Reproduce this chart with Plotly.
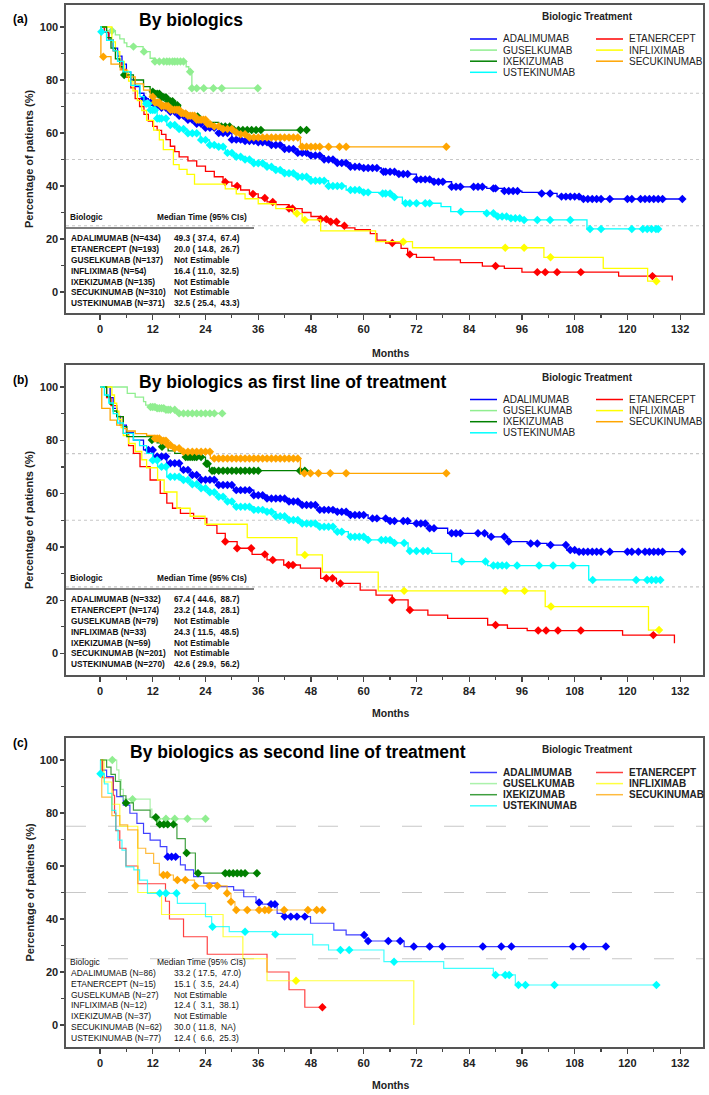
import numpy as np
import plotly.graph_objects as go

W, H = 709, 1095
FONT = "Arial, Liberation Sans, sans-serif"

DRUGS = ["ADALIMUMAB", "ETANERCEPT", "GUSELKUMAB", "INFLIXIMAB",
         "IXEKIZUMAB", "SECUKINUMAB", "USTEKINUMAB"]
COLORS = ["#0000ff", "#ff0000", "#90ee90", "#ffff00", "#008000", "#ffa500", "#00ffff"]

TICKS_X = list(range(0, 133, 12))
TICKS_Y = [0, 20, 40, 60, 80, 100]

# ---------------- Panel (a): by biologics ----------------
a_ada_t = [0, 1, 2, 3, 4, 5, 6, 7, 8, 9, 10, 11, 12, 14, 16, 18, 20, 22, 24, 27, 30, 33, 36, 39, 42, 45, 48,
           51, 54, 57, 60, 64, 68, 72, 76, 80, 88, 92, 96, 100, 104, 110, 132.5]
a_ada_s = [100, 98, 95, 92, 89, 86, 83, 80, 77.5, 75, 73, 71.5, 70.6, 69.5, 68, 66.5, 65, 63.5, 62, 60, 57.5, 57,
           56.5, 55.5, 54, 52.5, 51.5, 50, 48.7, 47.3, 46.8, 45.4, 44.5, 42.5, 41.6, 39.7, 39.1, 38.1, 37.6, 37.2,
           36, 35.1, 35.1]
a_ada_c = [10, 11.5, 12.5, 13, 14, 15, 16, 17, 18, 19, 20, 21, 22, 23, 24, 25, 26, 27, 28, 29, 30, 31, 32, 33, 34,
           35, 36, 37, 38, 39, 40, 41, 42, 43, 44, 45, 46, 47, 48, 49, 50, 51, 52, 53, 54, 55, 56, 57, 58, 59, 60,
           61, 62, 63, 64.5, 65, 66, 67, 68, 69, 70, 72, 73, 74, 75, 76, 77, 78, 80, 81, 82, 85, 86, 87, 89.5, 90,
           92, 93, 94, 95, 100.5, 102.4, 105, 106, 107, 108, 109, 110, 111, 112, 113, 114, 116, 120, 121, 123,
           124, 125, 126, 127, 128, 132.5]

a_eta_t = [0, 1, 2, 3, 4, 5, 6, 7, 8, 9, 10, 11, 12, 13, 14, 15, 16, 17, 18, 20, 22, 24, 26, 28, 30, 32, 34, 36,
           38, 40, 43, 46, 48, 50, 52, 54, 56, 58, 61.5, 63, 65, 68.5, 70, 72, 76, 82, 87, 92, 96, 118, 130.2]
a_eta_s = [100, 98, 95, 91, 87, 84, 81, 77, 73, 70, 67, 64.5, 62.5, 61, 59.5, 57.5, 55, 53, 51, 49.5, 47.5, 45.5,
           43.5, 41.5, 40, 38.5, 37, 35.5, 34, 33, 31.5, 30, 28.5, 27.5, 26.5, 25, 24.2, 23.5, 22, 19.6, 18.5,
           16.5, 14.2, 13.1, 12.1, 11.1, 9.8, 8.9, 7.5, 6.0, 4.3]
a_eta_c = [28.5, 31.2, 34.8, 37.5, 39.3, 43, 43.8, 50.2, 51.5, 52.5, 53.8, 55.6, 66.5, 70.5, 90, 99.5, 101.3,
           104, 109.4, 125.7]

a_gus_t = [0, 1.5, 3.5, 4.5, 5.5, 6.1, 9.8, 11.4, 12.5, 19.6, 20.2, 20.9, 36]
a_gus_s = [100, 98.6, 97, 95.5, 94, 92.6, 90.7, 88.2, 87, 85, 83.1, 76.9, 76.9]
a_gus_c = [2.7, 7.6, 10, 12.5, 13.5, 14.5, 15.2, 15.8, 16.5, 17, 17.6, 18.3, 19, 20.5, 20.9, 22, 23.6, 25.8,
           27.7, 35.9]

a_inf_t = [0, 2.7, 3.5, 4.5, 5.5, 6.5, 7.5, 8.5, 9.5, 10.6, 12.2, 13.5, 14.4, 16.7, 18, 19.8, 21.5, 28.5, 31,
           33, 36, 40, 44, 46, 50.2, 62.7, 71.1, 101, 114.5, 124.6, 126.6]
a_inf_s = [100, 94.4, 90.7, 87, 83.3, 79.6, 75.9, 72.2, 68.5, 64.8, 61.1, 57.4, 53.7, 48.1, 46.3, 44.4, 40.7,
           38.9, 37, 35.2, 33.3, 31.5, 29.6, 27.2, 23.1, 19, 16.7, 13.1, 8.9, 4.1, 4.1]
a_inf_c = [44.8, 46.6, 69, 92.2, 96.5, 102.5, 126.6]

a_ixe_t = [0, 1.5, 2.5, 3.5, 4.5, 5.3, 7.6, 9.9, 11.4, 12.5, 14, 15.5, 17, 18.3, 19.8, 22.8, 24.3, 27, 30.4, 47]
a_ixe_s = [100, 96, 92, 88, 85, 81.9, 80, 77.5, 75.6, 74.8, 73.5, 72, 70.5, 68, 66.2, 65, 64, 62.5, 61.1, 61.1]
a_ixe_c = [5.5, 12, 12.5, 13, 13.5, 14, 14.5, 15, 15.5, 16, 16.5, 17, 17.6, 22.2, 27.6, 28.5, 29.5, 30.5, 31.5,
           32.5, 33.5, 34.5, 35.5, 36.6, 45.6, 47]

a_sec_t = [0, 0.2, 2.5, 4.6, 6.1, 8, 9.9, 11.4, 12.5, 14, 16, 18.3, 20, 22, 24.3, 26, 28, 30.4, 32, 34, 45.6, 78.8]
a_sec_s = [100, 88.8, 86, 83.8, 81.2, 78.5, 76.2, 73.7, 71.5, 70.2, 68.8, 67.4, 66.5, 65, 63.4, 62.5, 61.5, 60.2,
           59.5, 58.3, 54.8, 54.8]
a_sec_c = [0.75, 12, 12.5, 13, 13.5, 14, 14.5, 15, 15.5, 16, 16.5, 17, 17.5, 18, 18.5, 19, 19.5, 20, 20.5, 21,
           21.5, 22, 22.5, 23, 23.5, 24, 24.5, 25, 26, 27, 28, 29, 30, 31, 32, 33, 34, 35, 36, 37, 38, 39, 40, 41,
           42, 43, 44, 45, 46, 47, 48, 49, 50, 52, 54.5, 56, 78.8]

a_ust_t = [0, 0.3, 1.5, 3, 4, 5.3, 7, 9.1, 10, 11.4, 13, 15.2, 17.5, 19.8, 22.8, 24.9, 26.6, 28.5, 30.4, 33, 35,
           38, 40, 42, 45, 48, 52, 56, 60, 63.5, 66.5, 68.8, 77.6, 79.8, 87.4, 89.6, 93, 96.5, 110.8, 127]
a_ust_s = [100, 98.2, 95, 91, 87, 83.1, 78, 73.7, 71, 68.7, 65.5, 63, 61.5, 59.9, 57.4, 55.5, 54.8, 52.5, 51,
           50, 48.6, 47.3, 46, 44.8, 43.5, 42, 40, 38.5, 37.6, 37.2, 35.8, 33.5, 32.2, 30.3, 29.7, 28.5, 27.8,
           27.2, 23.8, 23.8]
a_ust_c = [0.3, 10.5, 11, 11.5, 12, 12.5, 13, 13.5, 14, 15, 16, 17, 18, 19, 20, 21, 22, 23, 24, 25, 26, 27, 28,
           29, 30, 31, 32, 33, 34, 35, 36, 37, 38, 39, 40, 41, 42, 43, 44, 45, 46, 47, 48, 49, 50, 51, 52, 53, 54,
           55, 57, 58, 59, 60, 61, 64.3, 65, 66, 67, 69.5, 70.5, 72, 74, 75, 82.1, 88, 89.5, 90.5, 91.5, 92.5,
           93.5, 94.5, 95.5, 96.5, 99.5, 102.4, 107, 111.5, 114, 121, 123.5, 124.5, 125.5, 126.5, 127]

# ---------------- Panel (b): first line ----------------
b_ada_t = [0, 2.3, 3, 3.8, 4.6, 6, 7.6, 9.9, 12.2, 15.2, 18.3, 20.5, 22.8, 26.6, 30.4, 35, 38, 42.6, 45.6, 49.4,
           53.2, 57, 61, 66, 70.1, 74.6, 79.1, 88.2, 92.7, 97.2, 101.7, 106.2, 108.5, 132.5]
b_ada_s = [100, 96, 92, 89, 85.7, 83, 80.1, 76.4, 73.9, 71.4, 68.9, 67, 65.2, 63.2, 61.3, 59.4, 58.2, 57, 55.7,
           53.9, 53.2, 52, 50.7, 49.7, 48.8, 47, 45.1, 43.8, 42, 41.3, 40.7, 38.8, 38.2, 38.2]
b_ada_c = [11, 12, 13, 14, 15, 16, 17, 18, 19, 20, 21, 22, 23, 24, 25, 26, 27, 28, 29, 30, 31, 32, 33, 34, 35,
           36, 37, 38, 39, 40, 41, 42, 43, 44, 45, 46, 47, 48, 49, 50, 51, 52, 53, 54, 55, 56, 57, 58, 59, 60,
           62, 63, 65, 66, 67, 69, 70, 72, 73, 74, 75, 76, 80, 81, 82, 86, 87.5, 89, 92, 93, 98, 99.5, 102.5,
           106, 107, 108, 109, 110, 111, 112, 113, 114, 116, 120, 121, 122.5, 124, 125, 126, 127, 128, 132.5]

b_eta_t = [0, 1.5, 2.5, 3.8, 5.3, 6.5, 7.6, 9.1, 11.4, 13.7, 15.2, 16.5, 18.3, 21.3, 24.3, 26.6, 28.5, 31.2,
           34.6, 38, 41.8, 45.6, 50.2, 53.8, 59.2, 62.8, 66.5, 70.1, 74.6, 79.1, 88.2, 92.7, 97.2, 118.9, 130.7]
b_eta_s = [100, 96, 93, 88.9, 82.6, 78, 75.1, 70.1, 65.1, 60.1, 56.4, 54.5, 52.6, 50.7, 48.2, 45.1, 42, 39.5,
           37.2, 35.1, 33.2, 32, 28.2, 26.3, 23.8, 21.9, 20.1, 16.3, 14.4, 13.2, 10.7, 9.4, 8.6, 6.9, 3.8]
b_eta_c = [28.5, 31.2, 34.4, 37.5, 39.3, 42.9, 43.9, 51.5, 52.9, 54.7, 66.5, 70.5, 90, 99.7, 101.5, 104.2,
           109.4, 125.9]

b_gus_t = [0, 6.2, 8, 9.9, 10.4, 11.2, 13, 15, 17.5, 28]
b_gus_s = [100, 97.6, 96.2, 94.5, 93.2, 92.5, 92, 91.5, 90.1, 90.1]
b_gus_c = [11.5, 12, 12.5, 13, 13.5, 14, 14.5, 15, 15.5, 16, 17, 18, 19, 20, 21, 22, 23, 24, 25, 26, 27.8]

b_inf_t = [0, 2.7, 3.3, 3.8, 4.3, 4.8, 5.3, 6.5, 8, 9.5, 10.6, 13.1, 14.6, 17.5, 20.5, 23.9, 33.5, 44.8, 50.6,
           63.3, 101.3, 124.8, 127.2]
b_inf_s = [100, 97, 93.9, 90.9, 87.9, 84.8, 81.8, 78.8, 75.8, 72.7, 69.7, 65.1, 60.6, 54.5, 51.5, 48.5, 43.5,
           37, 30.5, 23.5, 17.6, 8.8, 8.8]
b_inf_c = [46.6, 69.2, 92.2, 96.6, 102.6, 127.2]

b_ixe_t = [0, 1.5, 2.3, 3, 3.8, 5.3, 6.1, 11.8, 13, 14.1, 15.5, 17, 19.4, 24, 24.9, 46.6]
b_ixe_s = [100, 96.5, 93.5, 91, 88.9, 85.1, 81.4, 80.1, 79, 77.6, 76, 75.1, 73.7, 71.2, 68.6, 68.6]
b_ixe_c = [11.8, 14.1, 19.5, 20, 20.5, 21, 21.5, 22, 23, 24.2, 24.5, 25.5, 26, 27, 28, 29, 30, 31, 32, 33, 34,
           35, 36, 45.5, 46.6]

b_sec_t = [0, 0.4, 2.3, 3.8, 5.3, 6.1, 8, 10.6, 12.2, 14, 15.2, 16.5, 18.3, 25.1, 45.6, 78.8]
b_sec_s = [100, 92, 87.6, 85.7, 84.4, 83.5, 82.5, 81.8, 80.7, 79.8, 78.2, 77, 75.7, 73.2, 67.6, 67.6]
b_sec_c = [12.5, 13, 13.5, 14, 14.5, 15, 15.5, 16, 17, 18, 19, 20, 21, 22, 23, 24, 25, 26, 27, 28, 29, 30, 31,
           32, 33, 34, 35, 36, 37, 38, 39, 40, 41, 42, 43, 44, 45, 46.5, 47.9, 49.7, 52.4, 56, 78.8]

b_ust_t = [0, 1, 2, 3, 4, 5.3, 7.6, 9, 10.6, 12, 13.1, 15.2, 18.3, 20.5, 22.8, 24.5, 26.6, 28.5, 30.4, 35, 38,
           40, 42.6, 45.6, 49.4, 53.2, 56.5, 61, 66.5, 70.1, 75.5, 80, 88.2, 111.2, 127.9]
b_ust_s = [100, 97, 94, 90, 86.5, 82.6, 80.1, 78, 75.1, 72.5, 70.1, 66.3, 65.1, 63.5, 62, 60.5, 58.8, 57, 55.1,
           53.9, 53.2, 51.5, 50.1, 48.8, 47.6, 45.7, 43.8, 42.6, 41.5, 38.5, 37.6, 34.5, 33, 27.6, 27.6]
b_ust_c = [12, 13, 14, 15, 16, 17, 18, 19, 20, 21, 22, 23, 24, 25, 26, 27, 28, 29, 30, 31, 32, 33, 34, 35, 36,
           37, 38, 39, 40, 41, 42, 43, 44, 45, 46, 47, 48, 49, 50, 51, 52, 53, 54, 55, 57, 58, 59, 60, 61, 64,
           65, 66, 67, 69.2, 70.5, 72, 73.5, 74.6, 82.3, 87.7, 89.5, 90.5, 91.5, 92.5, 94.9, 99.9, 103.1, 107.6,
           112.1, 122, 124.5, 125.5, 126.5, 127.5]

# ---------------- Panel (c): second line ----------------
c_ada_t = [0, 0.5, 1.5, 3, 3.8, 5.3, 6.8, 8.4, 9.9, 11.4, 13.7, 15.2, 18.3, 19.4, 21.3, 23.6, 26.6, 30.4, 32.7,
           35.5, 36.9, 40.3, 41.5, 47.9, 53.2, 56, 60.5, 69.2, 115.1]
c_ada_s = [100, 96.2, 93.7, 88.7, 86.2, 83, 79.9, 76.1, 72.3, 69.8, 67.3, 63.5, 60.4, 58.5, 56, 53.5, 52.2,
           50.9, 48.4, 46.2, 45.6, 42.1, 40.9, 38.4, 35.8, 34, 31.7, 29.6, 29.6]
c_ada_c = [15.4, 16.3, 17.2, 36.2, 38.9, 39.8, 42, 43.4, 44.8, 46.6, 60.1, 61, 65.6, 68.3, 71.4, 75, 77.9, 87.1,
           91.3, 93.6, 107.6, 110, 115.1]

c_eta_t = [0, 0.6, 3.0, 3.3, 3.6, 4.5, 5.9, 8.6, 14.9, 15.8, 19, 24.4, 38, 43, 46.6, 50.6]
c_eta_s = [100, 93.3, 86.7, 80, 73.3, 66.7, 60, 53.3, 46.7, 40, 33.3, 26.7, 20, 13.3, 6.7, 6.7]
c_eta_c = [50.6]

c_gus_t = [0, 3.8, 4.3, 4.8, 5.3, 11.4, 11.8, 24]
c_gus_s = [100, 96.3, 92.6, 88.9, 85.2, 81.5, 77.8, 77.8]
c_gus_c = [2.8, 7.4, 13, 15, 17, 19.9, 24]

c_inf_t = [0, 0.9, 2.7, 4.5, 8.6, 14, 28, 32.5, 38, 71.4]
c_inf_s = [100, 91.7, 83.3, 75, 50, 41.7, 33.3, 25, 16.7, 0]
c_inf_c = [44.6]

c_ixe_t = [0, 1.5, 2.5, 3.5, 4.6, 5.9, 7.6, 11.4, 12.9, 17.5, 19.4, 21.7, 35.7]
c_ixe_s = [100, 97.3, 94.6, 91.9, 86.5, 83.8, 81.1, 78.4, 75.7, 70.3, 64.9, 57.3, 57.3]
c_ixe_c = [5.9, 12.7, 13.6, 14.5, 15.4, 16.7, 19.7, 22.3, 28.5, 29.4, 30.3, 31.2, 32.1, 33, 35.7]

c_sec_t = [0, 0.4, 2.7, 4.5, 6.3, 8.6, 10.4, 12.2, 13.5, 16.7, 21.5, 28.9, 29.8, 30.7, 50.6]
c_sec_s = [100, 86, 79, 75.5, 73.6, 66.7, 64.8, 61, 56.6, 54.7, 52.5, 49.7, 46.5, 43.4, 43.4]
c_sec_c = [14.4, 15.3, 17.6, 19.4, 21.7, 24.9, 26.7, 28.9, 29.8, 31, 33.5, 36.2, 37.5, 38.4, 41.9, 47.3, 49.3,
           50.6]

c_ust_t = [0, 0.1, 1, 1.8, 2.7, 3.6, 4.1, 5, 5.9, 7.7, 9, 10.8, 17.6, 24, 25.4, 29.4, 39.3, 48.4, 52, 64.6,
           78.2, 89.5, 94.5, 126.6]
c_ust_s = [100, 94.8, 91, 87.4, 81, 73.6, 69.8, 66, 59.7, 58.5, 54.7, 49.7, 45.9, 40.9, 37.1, 35.2, 34.2, 30.2,
           28.3, 23.9, 21.4, 18.9, 15.1, 15.1]
c_ust_c = [0.1, 13.6, 15, 17.4, 25.6, 33, 39.9, 54.7, 56.7, 66.9, 90, 92.2, 93.1, 95.2, 96.8, 103.4, 126.6]

# ---------------- Tables ----------------
table_a_names = ["ADALIMUMAB (N=434)", "ETANERCEPT (N=193)", "GUSELKUMAB (N=137)", "INFLIXIMAB (N=54)",
                 "IXEKIZUMAB (N=135)", "SECUKINUMAB (N=310)", "USTEKINUMAB (N=371)"]
table_a_median = ["49.3 ( 37.4,  67.4)", "20.0 ( 14.8,  26.7)", "Not Estimable", "16.4 ( 11.0,  32.5)",
                  "Not Estimable", "Not Estimable", "32.5 ( 25.4,  43.3)"]
table_b_names = ["ADALIMUMAB (N=332)", "ETANERCEPT (N=174)", "GUSELKUMAB (N=79)", "INFLIXIMAB (N=33)",
                 "IXEKIZUMAB (N=59)", "SECUKINUMAB (N=201)", "USTEKINUMAB (N=270)"]
table_b_median = ["67.4 ( 44.6,  88.7)", "23.2 ( 14.8,  28.1)", "Not Estimable", "24.3 ( 11.5,  48.5)",
                  "Not Estimable", "Not Estimable", "42.6 ( 29.9,  56.2)"]
table_c_names = ["ADALIMUMAB (N=86)", "ETANERCEPT (N=15)", "GUSELKUMAB (N=27)", "INFLIXIMAB (N=12)",
                 "IXEKIZUMAB (N=37)", "SECUKINUMAB (N=62)", "USTEKINUMAB (N=77)"]
table_c_median = ["33.2 ( 17.5,  47.0)", "15.1 (  3.5,  24.4)", "Not Estimable", "12.4 (  3.1,  38.1)",
                  "Not Estimable", "30.0 ( 11.8,  NA)", "12.4 (  6.6,  25.3)"]

panel_titles = ["By biologics", "By biologics as first line of treatment",
                "By biologics as second line of treatment"]
panel_labels = ["(a)", "(b)", "(c)"]

series = [
    [(a_ada_t, a_ada_s, a_ada_c), (a_eta_t, a_eta_s, a_eta_c), (a_gus_t, a_gus_s, a_gus_c),
     (a_inf_t, a_inf_s, a_inf_c), (a_ixe_t, a_ixe_s, a_ixe_c), (a_sec_t, a_sec_s, a_sec_c),
     (a_ust_t, a_ust_s, a_ust_c)],
    [(b_ada_t, b_ada_s, b_ada_c), (b_eta_t, b_eta_s, b_eta_c), (b_gus_t, b_gus_s, b_gus_c),
     (b_inf_t, b_inf_s, b_inf_c), (b_ixe_t, b_ixe_s, b_ixe_c), (b_sec_t, b_sec_s, b_sec_c),
     (b_ust_t, b_ust_s, b_ust_c)],
    [(c_ada_t, c_ada_s, c_ada_c), (c_eta_t, c_eta_s, c_eta_c), (c_gus_t, c_gus_s, c_gus_c),
     (c_inf_t, c_inf_s, c_inf_c), (c_ixe_t, c_ixe_s, c_ixe_c), (c_sec_t, c_sec_s, c_sec_c),
     (c_ust_t, c_ust_s, c_ust_c)],
]
tables = [(table_a_names, table_a_median), (table_b_names, table_b_median), (table_c_names, table_c_median)]

# ---------------- Layout geometry (pixels) ----------------
GEOM = [
    dict(top=5, bottom=313, yr=[-7.92, 108.3], title_y=20, title_x=137, label_y=19, months_y=353,
         leg_title_y=16.5, leg_row0=39, head_y=217, line_y=228, row0=238.3, bold_table=True, dash="3px,3px"),
    dict(top=365, bottom=675, yr=[-8.07, 108.26], title_y=382, title_x=137, label_y=380, months_y=713,
         leg_title_y=377, leg_row0=399.5, head_y=578, line_y=589, row0=599.3, bold_table=True, dash="3px,3px"),
    dict(top=738, bottom=1047, yr=[-8.3, 108.3], title_y=752, title_x=128, label_y=743, months_y=1085,
         leg_title_y=749.3, leg_row0=772.5, head_y=962, line_y=None, row0=973, bold_table=False,
         dash="20px,22px"),
]
XL, XR = 66, 703
XRANGE = [-7.74, 137.2]


def px(x):
    return x / W


def py(y):
    return 1 - y / H


def surv_at(t, s, c):
    i = int(np.searchsorted(np.asarray(t), c, side="right")) - 1
    return s[max(i, 0)]


fig = go.Figure()
shapes, annotations = [], []

for p in range(3):
    g = GEOM[p]
    xa = "x" if p == 0 else f"x{p + 1}"
    ya = "y" if p == 0 else f"y{p + 1}"
    lw = 1.3 if p < 2 else 1.2
    op = 1.0 if p < 2 else 0.75
    for k, (t, s, c) in enumerate(series[p]):
        fig.add_trace(go.Scatter(x=t, y=s, mode="lines", line=dict(color=COLORS[k], width=lw, shape="hv"),
                                 opacity=op, xaxis=xa, yaxis=ya, showlegend=False, hoverinfo="skip"))
        fig.add_trace(go.Scatter(x=c, y=[surv_at(t, s, ci) for ci in c], mode="markers",
                                 marker=dict(symbol="diamond", size=6.5, color=COLORS[k], line=dict(width=0)),
                                 xaxis=xa, yaxis=ya, showlegend=False, hoverinfo="skip"))

    axx = dict(domain=[px(XL), px(XR)], range=XRANGE, anchor=ya, tickvals=TICKS_X, ticks="outside", ticklen=5,
               tickwidth=1.2, tickcolor="#444", showline=True, linecolor="#555", linewidth=1.6, mirror=True,
               showgrid=False, zeroline=False, automargin=False,
               tickfont=dict(family=FONT, size=11, color="#222", weight="bold"),
               minor=dict(tickvals=list(range(6, 133, 12)), ticks="outside", ticklen=3, tickcolor="#444"))
    axy = dict(domain=[py(g["bottom"]), py(g["top"])], range=g["yr"], anchor=xa, tickvals=TICKS_Y,
               ticks="outside", ticklen=4, tickwidth=1.2, tickcolor="#444", showline=True, linecolor="#555",
               linewidth=1.6, mirror=True, showgrid=False, zeroline=False, automargin=False,
               tickfont=dict(family=FONT, size=11, color="#222", weight="bold"),
               minor=dict(tickvals=[10, 30, 50, 70, 90], ticks="outside", ticklen=3, tickcolor="#444"))
    fig.update_layout(**{("xaxis" if p == 0 else f"xaxis{p + 1}"): axx,
                         ("yaxis" if p == 0 else f"yaxis{p + 1}"): axy})

    # reference dashed lines at 25/50/75 %
    for lev in (25, 50, 75):
        shapes.append(dict(type="line", xref=f"{xa} domain", yref=ya, x0=0, x1=1, y0=lev, y1=lev,
                           line=dict(color="#c8c8c8", width=1.1, dash=g["dash"]), layer="below"))

    # titles
    annotations.append(dict(x=px(g["title_x"]), y=py(g["title_y"]), xref="paper", yref="paper",
                            text=panel_titles[p], showarrow=False, xanchor="left", yanchor="middle",
                            font=dict(family=FONT, size=17.5, color="#000", weight="bold")))
    annotations.append(dict(x=px(20), y=py(g["label_y"]), xref="paper", yref="paper", text=panel_labels[p],
                            showarrow=False, xanchor="center", yanchor="middle",
                            font=dict(family=FONT, size=12, color="#000", weight="bold")))
    annotations.append(dict(x=px(390), y=py(g["months_y"]), xref="paper", yref="paper", text="Months",
                            showarrow=False, xanchor="center", yanchor="middle",
                            font=dict(family=FONT, size=10.5, color="#222", weight="bold")))
    annotations.append(dict(x=px(29), y=py((g["top"] + g["bottom"]) / 2), xref="paper", yref="paper",
                            text="Percentage of patients (%)", textangle=-90, showarrow=False,
                            xanchor="center", yanchor="middle",
                            font=dict(family=FONT, size=11, color="#222", weight="bold")))

    # legend
    annotations.append(dict(x=px(587), y=py(g["leg_title_y"]), xref="paper", yref="paper",
                            text="Biologic Treatment", showarrow=False, xanchor="center", yanchor="middle",
                            font=dict(family=FONT, size=10, color="#222", weight="bold")))
    for k, name in enumerate(DRUGS):
        row, col = k // 2, k % 2
        yy = g["leg_row0"] + row * 11.1
        x0 = 470 if col == 0 else 596
        shapes.append(dict(type="line", xref="paper", yref="paper", x0=px(x0), x1=px(x0 + 27), y0=py(yy),
                           y1=py(yy), line=dict(color=COLORS[k], width=1.5), opacity=op))
        annotations.append(dict(x=px(x0 + 31), y=py(yy), xref="paper", yref="paper", text=name,
                                showarrow=False, xanchor="left", yanchor="middle",
                                font=dict(family=FONT, size=10, color="#222",
                                          weight="bold" if p == 2 else "normal")))

    # median table
    names, meds = tables[p]
    tw = "bold" if g["bold_table"] else "normal"
    tsize = 8.3 if g["bold_table"] else 8.5
    hsize = 8.3 if g["bold_table"] else 8.5
    annotations.append(dict(x=px(68), y=py(g["head_y"]), xref="paper", yref="paper", text="Biologic",
                            showarrow=False, xanchor="left", yanchor="middle",
                            font=dict(family=FONT, size=hsize, color="#111", weight=tw)))
    annotations.append(dict(x=px(155), y=py(g["head_y"]), xref="paper", yref="paper",
                            text="Median Time (95% CIs)", showarrow=False, xanchor="left", yanchor="middle",
                            font=dict(family=FONT, size=hsize, color="#111", weight=tw)))
    if g["line_y"] is not None:
        shapes.append(dict(type="line", xref="paper", yref="paper", x0=px(XL), x1=px(254), y0=py(g["line_y"]),
                           y1=py(g["line_y"]), line=dict(color="#000", width=1)))
    for r in range(7):
        yy = g["row0"] + r * 10.8
        annotations.append(dict(x=px(69), y=py(yy), xref="paper", yref="paper", text=names[r],
                                showarrow=False, xanchor="left", yanchor="middle",
                                font=dict(family=FONT, size=tsize, color="#111", weight=tw)))
        annotations.append(dict(x=px(172), y=py(yy), xref="paper", yref="paper",
                                text=meds[r].replace("  ", "\u00a0\u00a0").replace("( ", "(\u00a0"),
                                showarrow=False, xanchor="left", yanchor="middle",
                                font=dict(family=FONT, size=tsize, color="#111", weight=tw)))

fig.update_layout(width=W, height=H, margin=dict(l=0, r=0, t=0, b=0), paper_bgcolor="white",
                  plot_bgcolor="white", shapes=shapes, annotations=annotations, showlegend=False)
fig.write_html("out.html", config={"displayModeBar": False, "staticPlot": True},
               post_script="document.body.style.margin='0px';document.body.style.overflow='hidden';")
